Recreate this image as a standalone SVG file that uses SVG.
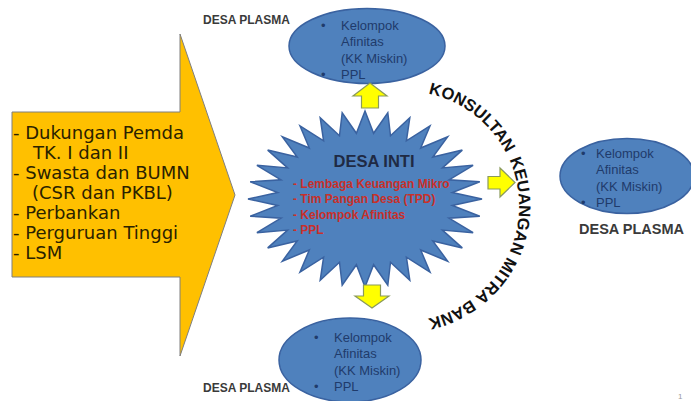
<svg xmlns="http://www.w3.org/2000/svg" width="691" height="401" viewBox="0 0 691 401">
<style>
.bg{fill:#ffffff}
.ell{fill:#4F81BD;stroke:#3A62A0;stroke-width:1.5}
.et{font-family:"Liberation Sans",Arial,sans-serif;font-size:13px;fill:#1F3B6B}
.lbl{font-family:"Liberation Sans",Arial,sans-serif;font-weight:bold;fill:#3a3a3a}
.yarr{fill:#FFFF00;stroke:#8A9A5B;stroke-width:1.2;stroke-linejoin:miter}
.red{font-family:"Liberation Sans",Arial,sans-serif;font-weight:bold;font-size:12px;fill:#C8302A}
.big{font-family:"DejaVu Sans",Verdana,sans-serif;font-size:18px;fill:#2a2200}
.arc{font-family:"Liberation Sans",Arial,sans-serif;font-weight:bold;font-size:16.5px;fill:#111111}
</style>
<defs>
<path id="arcPath" d="M 427.9 93.5 A 115 115 0 0 1 427.9 318.5"/>
</defs>
<rect class="bg" x="0" y="0" width="691" height="401"/>

<g id="support-arrow">
<polygon points="12,112 180,112 180,34 235,195 180,356 180,277 12,277" fill="#FFC000" stroke="#7F7F7F" stroke-width="1"/>
<text class="big" x="13" y="139">- Dukungan Pemda</text>
<text class="big" x="33" y="159">TK. I dan II</text>
<text class="big" x="13" y="179">- Swasta dan BUMN</text>
<text class="big" x="32" y="199">(CSR dan PKBL)</text>
<text class="big" x="13" y="219">- Perbankan</text>
<text class="big" x="13" y="239">- Perguruan Tinggi</text>
<text class="big" x="13" y="259">- LSM</text>
</g>

<g id="desa-inti">
<polygon fill="#4F81BD" stroke="#3A62A0" stroke-width="1.5" points="365,111 373.6,133.3 387.8,112.7 390.5,135.8 409.8,117.7 406.4,140.8 430,125.8 420.7,148 447.7,136.8 432.8,157.1 462.3,150.1 442.4,167.9 473.1,165.3 449,179.8 479.8,181.8 452.3,192.5 482,199 452.3,205.5 479.8,216.2 449,218.2 473.1,232.7 442.4,230.1 462.3,247.9 432.8,240.9 447.7,261.2 420.7,250 430,272.2 406.4,257.2 409.8,280.3 390.5,262.2 387.8,285.3 373.6,264.7 365,287 356.4,264.7 342.2,285.3 339.5,262.2 320.2,280.3 323.6,257.2 300,272.2 309.3,250 282.3,261.2 297.2,240.9 267.7,247.9 287.6,230.1 256.9,232.7 281,218.2 250.2,216.2 277.7,205.5 248,199 277.7,192.5 250.2,181.8 281,179.8 256.9,165.3 287.6,167.9 267.7,150.1 297.2,157.1 282.3,136.8 309.3,148 300,125.8 323.6,140.8 320.2,117.7 339.5,135.8 342.2,112.7 356.4,133.3"/>
<text x="374" y="167" text-anchor="middle" font-family="Liberation Sans, Arial, sans-serif" font-weight="bold" font-size="16.5" fill="#1F2A44">DESA INTI</text>
<text class="red" x="293" y="188">- Lembaga Keuangan Mikro</text>
<text class="red" x="293" y="203">- Tim Pangan Desa (TPD)</text>
<text class="red" x="293" y="219">- Kelompok Afinitas</text>
<text class="red" x="293" y="234">- PPL</text>
</g>

<g id="plasma-top">
<ellipse class="ell" cx="367" cy="46" rx="78" ry="37.5"/>
<text class="et" x="321" y="30">•</text>
<text class="et" x="341" y="30">Kelompok</text>
<text class="et" x="341" y="46">Afinitas</text>
<text class="et" x="341" y="63">(KK Miskin)</text>
<text class="et" x="321" y="79">•</text>
<text class="et" x="341" y="79">PPL</text>
<text class="lbl" x="203" y="24" font-size="12">DESA PLASMA</text>
</g>

<g id="plasma-right">
<ellipse class="ell" cx="627" cy="176" rx="67" ry="37.5"/>
<text class="et" x="581" y="158">•</text>
<text class="et" x="596" y="158">Kelompok</text>
<text class="et" x="596" y="174">Afinitas</text>
<text class="et" x="596" y="191">(KK Miskin)</text>
<text class="et" x="581" y="207">•</text>
<text class="et" x="596" y="207">PPL</text>
<text class="lbl" x="579" y="234" font-size="14.5">DESA PLASMA</text>
</g>

<g id="plasma-bottom">
<ellipse class="ell" cx="350" cy="360" rx="71" ry="42"/>
<text class="et" x="314" y="342">•</text>
<text class="et" x="334" y="342">Kelompok</text>
<text class="et" x="334" y="358">Afinitas</text>
<text class="et" x="334" y="375">(KK Miskin)</text>
<text class="et" x="314" y="391">•</text>
<text class="et" x="334" y="391">PPL</text>
<text class="lbl" x="203" y="392" font-size="12">DESA PLASMA</text>
</g>

<g id="connectors">
<polygon class="yarr" points="370,83 387,96 378.5,96 378.5,108 361.5,108 361.5,96 353,96"/>
<polygon class="yarr" points="363.5,285 380.5,285 380.5,296 389,296 372,308 355,296 363.5,296"/>
<polygon class="yarr" points="488,176.5 500,176.5 500,168 515,182.5 500,197 500,189 488,189"/>
</g>

<g id="konsultan">
<text class="arc"><textPath href="#arcPath" startOffset="0.5">KONSULTAN</textPath></text>
<text class="arc"><textPath href="#arcPath" startOffset="108.7">KEUANGAN</textPath></text>
<text class="arc"><textPath href="#arcPath" startOffset="208.6">MITRA</textPath></text>
<text class="arc"><textPath href="#arcPath" startOffset="265.4">BANK</textPath></text>
</g>

<text x="678" y="399" font-family="Liberation Sans, Arial, sans-serif" font-size="8" fill="#9a9a9a">1</text>
</svg>
